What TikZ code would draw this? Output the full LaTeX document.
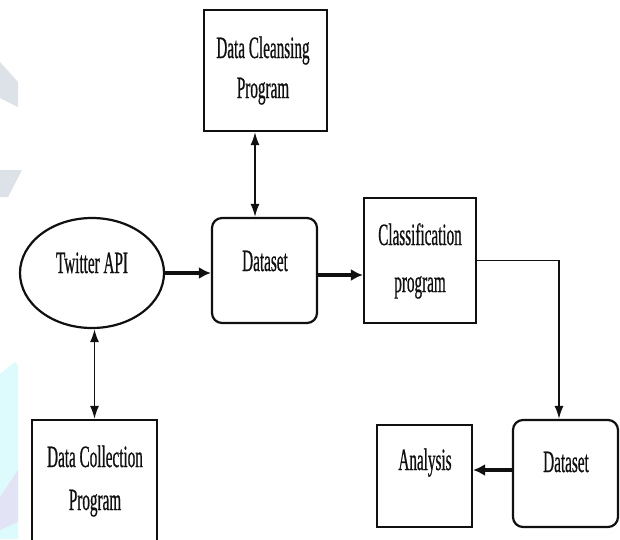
\documentclass[tikz,border=0pt]{standalone}
\usepackage{fontspec}
\setmainfont[FakeStretch=0.49,FakeBold=0.6]{Liberation Serif}
\usetikzlibrary{arrows.meta,shapes.geometric}
\definecolor{ink}{HTML}{101010}
\definecolor{wmgray}{HTML}{DCE2E7}
\definecolor{wmcyan}{HTML}{DDFAFC}
\definecolor{wmlav}{HTML}{E2E4F6}
\tikzset{
  box/.style={draw=ink, line width=2.2pt, inner sep=0pt},
  rbox/.style={box, rounded corners=10pt},
  lbl/.style={inner sep=0pt, font=\fontsize{31}{40}\selectfont, text=ink, anchor=base},
  thin/.style={draw=ink, line width=1.7pt, -{Latex[length=13pt,width=9pt]}},
  dbl/.style={draw=ink, line width=1.7pt, {Latex[length=13pt,width=9pt]}-{Latex[length=13pt,width=9pt]}},
  thick/.style={draw=ink, line width=3.2pt, -{Latex[length=12pt,width=12pt]}},
}
\begin{document}
\begin{tikzpicture}[x=1pt,y=-1pt]
\useasboundingbox (0,0) rectangle (620,539);
\clip (0,0) rectangle (620,539);
\fill[white] (0,0) rectangle (620,539);
% faint watermark fragments
\fill[wmgray] (0,62) -- (18,82) -- (18,107) -- (0,98) -- cycle;
\fill[wmgray] (0,170) -- (22,170) -- (8,197) -- (0,197) -- cycle;
\fill[wmcyan] (0,374) -- (15,362) -- (18,366) -- (18,539) -- (0,539) -- cycle;
\fill[wmlav] (0,497) -- (18,470) -- (18,522) -- (0,530) -- cycle;

% nodes
\node[box, minimum width=123pt, minimum height=121pt] (clean) at (265.5,70.5) {};
\node[rbox, minimum width=105pt, minimum height=105pt] (ds1) at (264.5,270.5) {};
\node[draw=ink, line width=2.2pt, ellipse, minimum width=144pt, minimum height=110pt, inner sep=0pt] (tw) at (92,273) {};
\node[box, minimum width=125pt, minimum height=125pt] (coll) at (94.5,482.5) {};
\node[box, minimum width=112pt, minimum height=125pt] (cls) at (420,260.5) {};
\node[rbox, minimum width=105pt, minimum height=107pt] (ds2) at (565.5,473.5) {};
\node[box, minimum width=95pt, minimum height=102pt] (ana) at (424.5,476) {};

% texts
\node[lbl] (t1) at (263,58) {Data Cleansing};
\node[lbl] (t2) at (263,98) {Program};
\node[lbl] (t3) at (265,271) {Dataset};
\node[lbl] (t4) at (92,273) {Twitter API};
\node[lbl] (t5) at (95,467) {Data Collection};
\node[lbl] (t6) at (95,510) {Program};
\node[lbl] (t7) at (420,245) {Classification};
\node[lbl] (t8) at (420,292) {program};
\node[lbl] (t9) at (566,472) {Dataset};
\node[lbl] (t10) at (425,470) {Analysis};

% connector helper coordinates
\coordinate (cxa) at (255,0);
\coordinate (rowa) at (0,275);
\coordinate (cxb) at (559,0);
\coordinate (rowb) at (0,470);

% connectors
\draw[dbl] (clean.south -| cxa) -- (ds1.north -| cxa);
\draw[dbl] (tw.south -| coll.north) -- (coll.north);
\draw[thick] (tw.east) -- (ds1.west |- tw.east);
\draw[thick] (ds1.east |- rowa) -- (cls.west |- rowa);
\draw[thin] (cls.east) -| (ds2.north -| cxb);
\draw[thick] (ds2.west |- rowb) -- (ana.east |- rowb);
\end{tikzpicture}
\end{document}
